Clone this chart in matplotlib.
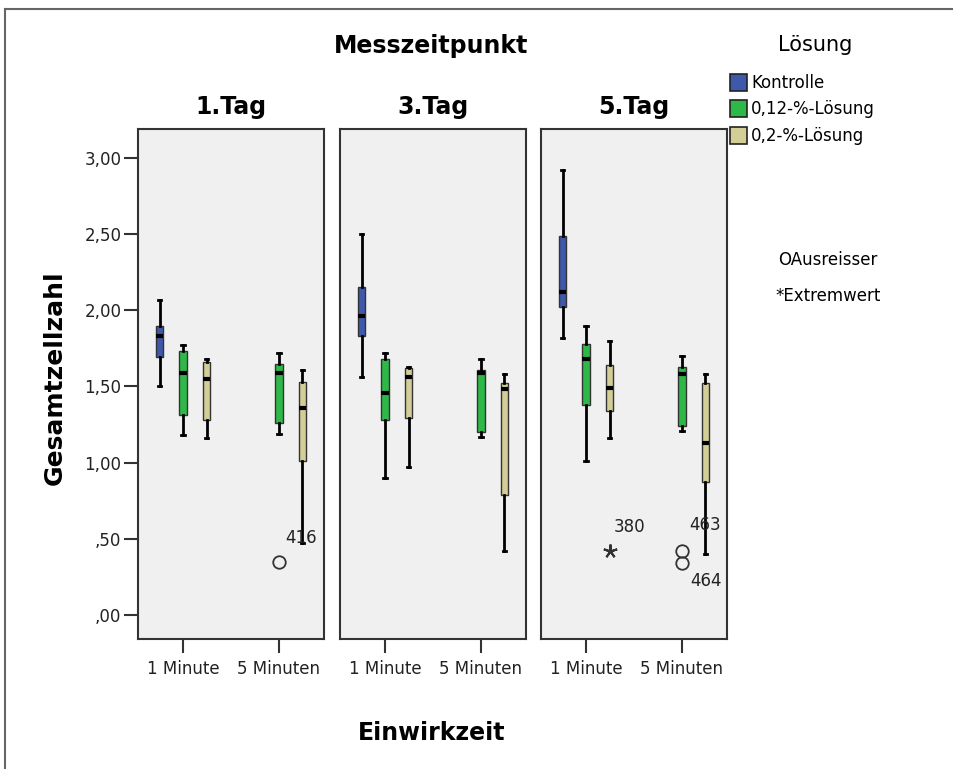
import matplotlib
matplotlib.use("Agg")
import matplotlib.pyplot as plt
import numpy as np
from matplotlib.lines import Line2D
from matplotlib.patches import Rectangle

# categories
days = ["1.Tag", "3.Tag", "5.Tag"]
times = ["1 Minute", "5 Minuten"]
solutions = ["Kontrolle", "0,12-%-Lösung", "0,2-%-Lösung"]
colors = ["#3e58ac", "#2eb848", "#d3ce97"]

nan = np.nan
# box statistics, indexed [day][time][solution]
whis_lo = [[[1.50, 1.18, 1.16], [nan, 1.19, 0.47]],
           [[1.56, 0.90, 0.97], [nan, 1.17, 0.42]],
           [[1.82, 1.01, 1.16], [nan, 1.21, 0.40]]]
q1 = [[[1.69, 1.31, 1.28], [nan, 1.26, 1.01]],
      [[1.83, 1.28, 1.29], [nan, 1.20, 0.79]],
      [[2.02, 1.38, 1.34], [nan, 1.24, 0.87]]]
median = [[[1.83, 1.59, 1.55], [nan, 1.59, 1.36]],
          [[1.96, 1.46, 1.56], [nan, 1.59, 1.48]],
          [[2.12, 1.68, 1.49], [nan, 1.58, 1.13]]]
q3 = [[[1.90, 1.73, 1.66], [nan, 1.65, 1.53]],
      [[2.15, 1.68, 1.62], [nan, 1.61, 1.52]],
      [[2.49, 1.78, 1.64], [nan, 1.63, 1.52]]]
whis_hi = [[[2.07, 1.77, 1.68], [nan, 1.72, 1.61]],
           [[2.50, 1.72, 1.63], [nan, 1.68, 1.58]],
           [[2.92, 1.90, 1.80], [nan, 1.70, 1.58]]]

# single flagged cases: (day, time, solution, value, case number)
outliers = [(0, 1, 1, 0.35, "416"),
            (2, 1, 1, 0.42, "463"),
            (2, 1, 1, 0.34, "464")]
extremes = [(2, 0, 2, 0.42, "380")]

W, H = 954, 769
fig = plt.figure(figsize=(W / 100, H / 100), dpi=100)


def fx(px):
    return px / W


def fy(py):
    return 1 - py / H


panel_left = [138, 340, 541]
pw = 186
top, bottom = 129, 639
offsets = [-0.245, 0.0, 0.245]
font = "DejaVu Sans"

axes = []
for d in range(len(days)):
    ax = fig.add_axes([fx(panel_left[d]), fy(bottom), pw / W, (bottom - top) / H])
    ax.set_facecolor("#f0f0f0")
    stats, pos, cols = [], [], []
    for t in range(len(times)):
        for s in range(len(solutions)):
            if np.isnan(median[d][t][s]):
                continue
            stats.append(dict(whislo=whis_lo[d][t][s], q1=q1[d][t][s],
                              med=median[d][t][s], q3=q3[d][t][s],
                              whishi=whis_hi[d][t][s], fliers=[]))
            pos.append(t + offsets[s])
            cols.append(colors[s])
    bp = ax.bxp(stats, positions=pos, widths=0.075, capwidths=0.04,
                patch_artist=True, showfliers=False,
                boxprops=dict(edgecolor="#333333", linewidth=1.0),
                medianprops=dict(color="black", linewidth=3, solid_capstyle="butt"),
                whiskerprops=dict(color="black", linewidth=2),
                capprops=dict(color="black", linewidth=2))
    for box, c in zip(bp["boxes"], cols):
        box.set_facecolor(c)

    # outliers as hollow circles, extreme values as asterisks
    for (dd, t, s, v, lab) in outliers:
        if dd == d:
            ax.plot(t + offsets[s], v, "o", mfc="none", mec="#333333", ms=9, mew=1.3)
    for (dd, t, s, v, lab) in extremes:
        if dd == d:
            ax.plot(t + offsets[s], v, marker=(5, 2, 0), color="#333333", ms=10, mew=1.5)

    ax.set_xlim(-0.47, 1.47)
    ax.set_ylim(-0.158, 3.19)
    ax.set_xticks(range(len(times)))
    ax.set_xticklabels(times, fontsize=12, color="#222222", family=font)
    ax.tick_params(axis="x", length=10, width=1.5, color="#333333", pad=5)
    yt = np.arange(0, 3.01, 0.5)
    if d == 0:
        ax.set_yticks(yt)
        ax.set_yticklabels([("%.2f" % v).replace(".", ",").lstrip("0") for v in yt],
                           fontsize=12, color="#222222", family=font)
        ax.tick_params(axis="y", length=10, width=1.5, color="#333333", pad=2)
    else:
        ax.set_yticks([])
    for sp in ax.spines.values():
        sp.set_color("#333333")
        sp.set_linewidth(1.5)
    fig.text(fx(panel_left[d] + pw / 2), fy(107), days[d], ha="center", va="center",
             fontsize=17, fontweight="bold", family=font)
    axes.append(ax)

# case number labels next to flagged points
label_shift = {"416": (22, 24), "463": (23, 26), "464": (24, -18), "380": (20, 24)}
for (d, t, s, v, lab) in outliers + extremes:
    axes[d].annotate(lab, (t + offsets[s], v), xytext=label_shift[lab],
                     textcoords="offset pixels", ha="center", va="center",
                     fontsize=12, color="#222222", family=font)

fig.text(fx(431), fy(46), "Messzeitpunkt", ha="center", va="center",
         fontsize=17, fontweight="bold", family=font)
fig.text(fx(55), fy(378), "Gesamtzellzahl", ha="center", va="center", rotation=90,
         fontsize=18, fontweight="bold", family=font)
fig.text(fx(432), fy(733), "Einwirkzeit", ha="center", va="center",
         fontsize=17, fontweight="bold", family=font)

# legend drawn by hand at the right
fig.text(fx(815), fy(45), "Lösung", ha="center", va="center", fontsize=15, family=font)
for i, (lab, c) in enumerate(zip(solutions, colors)):
    yc = [83, 109, 136][i]
    fig.patches.append(Rectangle((fx(730), fy(yc + 8)), 17 / W, 17 / H,
                                 transform=fig.transFigure, facecolor=c,
                                 edgecolor="#222222", linewidth=1.2))
    fig.text(fx(751), fy(yc), lab, ha="left", va="center", fontsize=12, family=font)
fig.text(fx(778), fy(260), "OAusreisser", ha="left", va="center", fontsize=12, family=font)
fig.text(fx(775), fy(296), "*Extremwert", ha="left", va="center", fontsize=12, family=font)

# outer frame lines
fig.add_artist(Line2D([fx(5), 1], [fy(9), fy(9)], color="#666666", lw=1.5))
fig.add_artist(Line2D([fx(5), fx(5)], [fy(9), 0], color="#666666", lw=1.5))

fig.savefig("out.png", dpi=100)
